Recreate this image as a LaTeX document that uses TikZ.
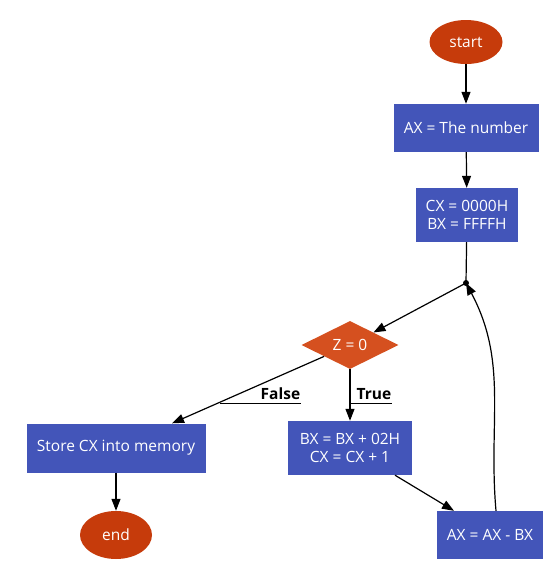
\documentclass[tikz,border=0pt]{standalone}
\usepackage{fontspec}
\setmainfont{Open Sans}
\usetikzlibrary{positioning,arrows.meta,shapes.geometric}
\definecolor{boxblue}{HTML}{4355B9}
\definecolor{termred}{HTML}{C63B0B}
\definecolor{testorange}{HTML}{D5501F}

\begin{document}
\begin{tikzpicture}[
  x=1pt, y=-1pt,
  font=\fontsize{15.5}{17.5}\selectfont,
  box/.style={fill=boxblue, text=white, align=center, inner sep=2pt},
  term/.style={ellipse, fill=termred, text=white, inner sep=0pt},
  test/.style={diamond, fill=testorange, text=white, inner sep=0pt, minimum width=97pt, minimum height=48pt},
  arrow/.style={-{Triangle[length=12pt,width=9pt]}, line width=1.2pt},
  lbl/.style={font=\bfseries\fontsize{15.5}{17.5}\selectfont, inner sep=1pt, inner ysep=3pt}
]
\useasboundingbox (0,0) rectangle (552,566);

\node[term, minimum width=73pt, minimum height=44pt] (start) at (466,42) {start};
\node[box, minimum width=145pt, minimum height=48pt] (number) at (466,128) {AX = The number};
\node[box, minimum width=102pt, minimum height=54pt] (init) at (467,215) {CX = 0000H\\BX = FFFFH};
\node[circle, fill, inner sep=0pt, minimum size=6pt] (join) at (466,283) {};
\node[test] (zero) at (350,345) {Z = 0};
\node[box, minimum width=179pt, minimum height=49pt] (store) at (116,448) {Store CX into memory};
\node[term, minimum width=72pt, minimum height=48pt] (end) at (116,535) {end};
\node[box, minimum width=124pt, minimum height=54pt] (count) at (350,448) {BX = BX + 02H\\CX = CX + 1};
\node[box, minimum width=106pt, minimum height=48pt] (sub) at (490,535) {AX = AX - BX};

\draw[arrow] (start) -- (number);
\draw[arrow] (number) -- (init);
\draw[line width=1.2pt] (init) -- (join.center);
\draw[arrow] (join.center) -- (zero);
\draw[arrow] (zero) -- (store.north -| 172,0);
\draw[arrow] (store) -- (end);
\draw[arrow] (zero) -- (count);
\draw[arrow] (count) -- (sub.north west -| 454,0);
\draw[arrow] (sub.north -| 496,0) to[out=95,in=-62] (join.center);

% branch labels with the rule under them
\node[lbl, minimum width=81pt, align=right, text width=79pt, anchor=south west] (false) at (220,403) {False};
\draw (false.south west) -- (false.south east);
\node[lbl, minimum width=42pt, align=right, text width=40pt, anchor=south west] (true) at (350,403) {True};
\draw (true.south west) -- (true.south east);
\end{tikzpicture}
\end{document}
